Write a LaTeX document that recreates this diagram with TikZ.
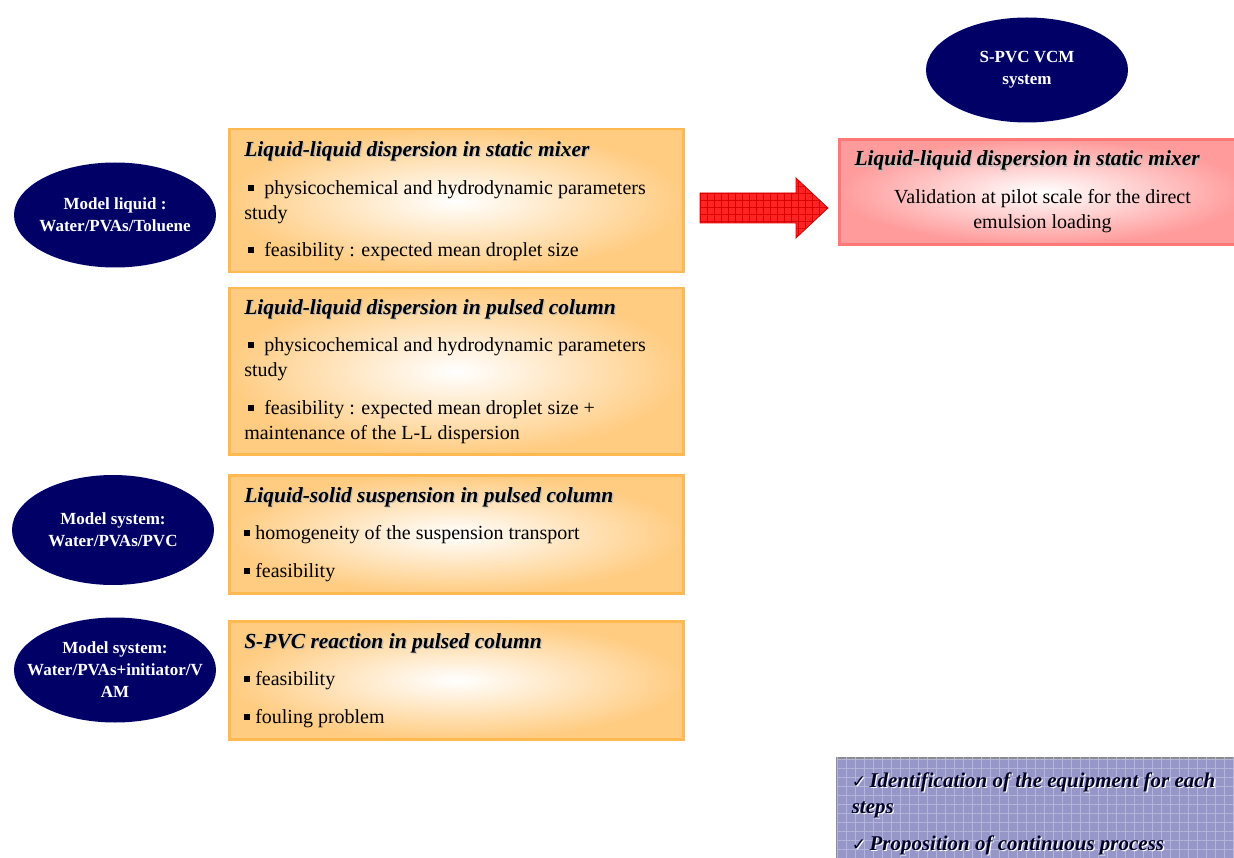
\documentclass[tikz,border=0pt]{standalone}
\usepackage{fontspec}
\setmainfont{Liberation Serif}
\newfontfamily\symfont{DejaVu Sans}
\usetikzlibrary{shapes.geometric,patterns.meta}
\definecolor{navy}{RGB}{0,0,102}
\definecolor{orangeedge}{RGB}{255,185,80}
\definecolor{orangefill}{RGB}{255,204,130}
\definecolor{pinkedge}{RGB}{255,120,120}
\definecolor{pinkfill}{RGB}{255,155,155}
\definecolor{arrowred}{RGB}{255,35,35}
\definecolor{lavender}{RGB}{150,150,200}
\newcommand{\shd}[2][black!25]{\makebox[0pt][l]{\hspace{1.3pt}\raisebox{-1.3pt}{\color{#1}#2}}{#2}}
\newcommand{\hd}[1]{\shd{\bfseries\itshape\fontsize{21.5}{25}\selectfont #1}}
\newcommand{\bul}{\rule[3pt]{6pt}{6pt}}
\newcommand{\chk}{{\symfont\mdseries\upshape\fontsize{17}{20}\selectfont\char"2713}}

\begin{document}
\begin{tikzpicture}[x=1pt, y=-1pt]
    \clip (0,0) rectangle (1234,858);
    \tikzset{
      model/.style={ellipse, fill=navy, text=white, align=center, inner xsep=-30pt, inner ysep=0pt,
        font=\bfseries\fontsize{17}{22}\selectfont, minimum width=202pt, minimum height=105pt},
      stepbox/.style={draw=orangeedge, line width=2.5pt, inner color=white, outer color=orangefill,
        anchor=north west, text width=424pt, inner xsep=15pt, align=flush left,
        font=\fontsize{20}{25}\selectfont}
    }
    % model systems
    \node[model] (vcm) at (1027,70) {S-PVC VCM\\system};
    \node[model] (liq) at (115,215) {Model liquid :\\Water/PVAs/Toluene};
    \node[model, minimum height=110pt] (pvc) at (113,530) {Model system:\\Water/PVAs/PVC};
    \node[model] (vam) at (115,670) {Model system:\\Water/PVAs+initiator/V\\AM};
    % study steps
    \node[stepbox, minimum height=143pt] (mixer) at (228,128) {%
      \hd{Liquid-liquid dispersion in static mixer}\\[13pt]
      \hspace*{4pt}\bul\ \ physicochemical and hydrodynamic parameters\\
      study\\[12pt]
      \hspace*{4pt}\bul\ \ feasibility : expected mean droplet size};
    \node[stepbox, minimum height=166pt] (column) at (228,287) {%
      \hd{Liquid-liquid dispersion in pulsed column}\\[12pt]
      \hspace*{4pt}\bul\ \ physicochemical and hydrodynamic parameters\\
      study\\[13pt]
      \hspace*{4pt}\bul\ \ feasibility : expected mean droplet size +\\
      maintenance of the L-L dispersion};
    \node[stepbox, minimum height=118pt] (solid) at (228,474) {%
      \hd{Liquid-solid suspension in pulsed column}\\[12pt]
      \bul\ homogeneity of the suspension transport\\[13pt]
      \bul\ feasibility};
    \node[stepbox, minimum height=118pt] (react) at (228,620) {%
      \hd{S-PVC reaction in pulsed column}\\[12pt]
      \bul\ feasibility\\[13pt]
      \bul\ fouling problem};
    % pilot scale
    \node[draw=pinkedge, line width=3pt, inner color=white, outer color=pinkfill,
      anchor=north west, minimum height=105pt, text width=376pt, inner xsep=15pt, align=flush left,
      font=\fontsize{20}{25}\selectfont] (pilot) at (838,138) {%
      \hd{Liquid-liquid dispersion in static mixer}\\[13pt]
      \makebox[\hsize]{Validation at pilot scale for the direct}\\
      \makebox[\hsize]{emulsion loading}};
    % block arrow
    \draw[draw=red!85!black, line width=0.8pt, fill=arrowred,
      postaction={pattern={Hatch[distance=7pt, line width=0.5pt]}, pattern color=red!85!black}]
      (700,193) -- (796,193) -- (796,178) -- (828,208) -- (796,238) -- (796,223) -- (700,223) -- cycle;
    % conclusion
    \node[draw=black!45, line width=1.5pt, fill=lavender,
      postaction={pattern={Hatch[distance=9pt, line width=0.8pt]}, pattern color=lavender!70!white},
      anchor=north west, minimum height=113pt, text width=380pt, inner xsep=15pt, align=flush left,
      text=navy!40!black, font=\bfseries\itshape\fontsize{21}{26}\selectfont] (goal) at (836,757) {%
      \shd[white]{\chk\,Identification of the equipment for each}\\
      \shd[white]{steps}\\[11pt]
      \shd[white]{\chk\,Proposition of continuous process}};
\end{tikzpicture}
\end{document}
